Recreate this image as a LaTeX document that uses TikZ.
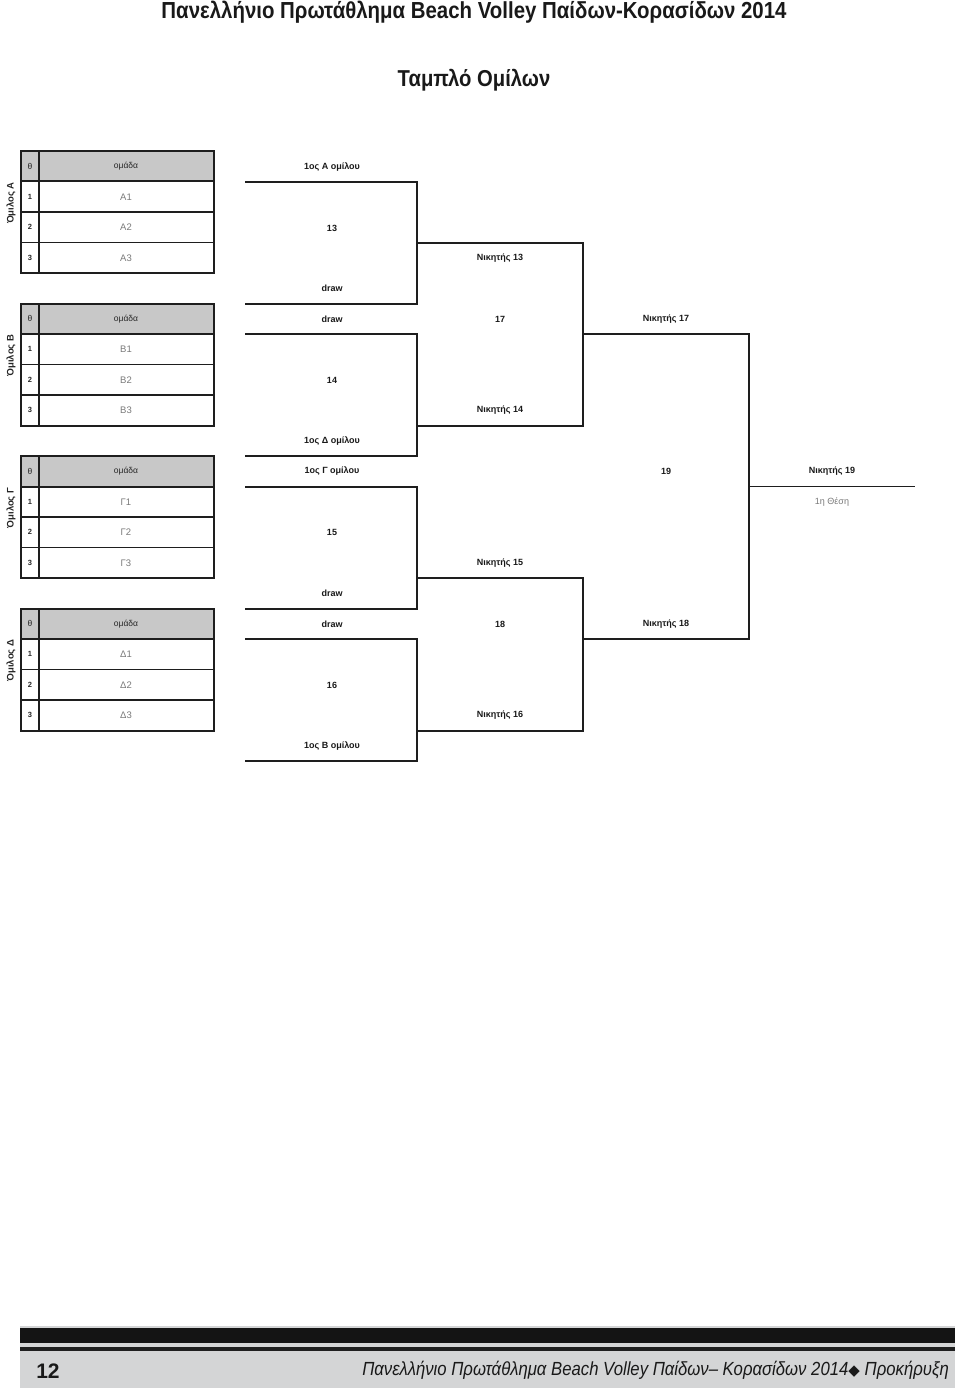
\documentclass[tikz,border=0pt]{standalone}
\usepackage{fontspec}
\setmainfont{Liberation Sans}
\newfontfamily\narrowf[FakeStretch=0.88]{Liberation Sans}
\newfontfamily\symf{DejaVu Sans}
\definecolor{linec}{HTML}{1E1E1E}
\definecolor{hdrc}{HTML}{C8C8C8}
\definecolor{teamc}{HTML}{7A7A7A}
\definecolor{footg}{HTML}{D4D5D6}
\tikzset{
  br/.style={draw=linec, line width=2pt, line cap=rect},
  tabout/.style={draw=linec, line width=2pt},
  tabhd/.style={draw=linec, line width=2pt},
  tabin/.style={draw=linec, line width=1.3pt},
  lbl/.style={inner sep=0pt, font=\fontsize{9}{10}\selectfont\bfseries, text=black!90},
  sublbl/.style={inner sep=0pt, font=\fontsize{9}{10}\selectfont, text=teamc},
  hd/.style={inner sep=0pt, font=\fontsize{8.5}{10}\selectfont, text=black!85},
  num/.style={inner sep=0pt, font=\fontsize{7.5}{9}\selectfont\bfseries, text=black!85},
  team/.style={inner sep=0pt, font=\fontsize{9.5}{11}\selectfont, text=teamc},
  glbl/.style={inner sep=0pt, rotate=90, font=\fontsize{9.5}{11}\selectfont\bfseries, text=black!85},
}
\newcommand\grptab[3]{%
  \begin{scope}[shift={(0,#1)}]
    \fill[hdrc] (21,0) rectangle (214,30.5);
    \draw[tabin] (21,61) -- (214,61);
    \draw[tabin] (21,91.5) -- (214,91.5);
    \draw[tabhd] (21,30.5) -- (214,30.5);
    \draw[tabin] (39,0) -- (39,122);
    \draw[tabout] (21,0) rectangle (214,122);
    \node[hd] (#3h0) at (30,15.25) {θ};
    \node[hd] (#3h1) at (126,15.25) {ομάδα};
    \node[num] (#3n1) at (30,45.75) {1};
    \node[num] (#3n2) at (30,76.25) {2};
    \node[num] (#3n3) at (30,106.75) {3};
    \node[team] (#3t1) at (126,45.75) {#21};
    \node[team] (#3t2) at (126,76.25) {#22};
    \node[team] (#3t3) at (126,106.75) {#23};
    \node[glbl] (#3g) at (11,52) {Όμιλος #2};
  \end{scope}}
\begin{document}
\begin{tikzpicture}[x=1pt,y=-1pt]
\useasboundingbox (0,0) rectangle (960,1388);
\fill[white] (0,0) rectangle (960,1388);

% titles
\node[inner sep=0pt, font=\narrowf\fontsize{23.2}{26}\selectfont\bfseries, text=black!90] (title) at (474,12) {Πανελλήνιο Πρωτάθλημα Beach Volley Παίδων-Κορασίδων 2014};
\node[inner sep=0pt, font=\narrowf\fontsize{23}{26}\selectfont\bfseries, text=black!90] (subtitle) at (474,80) {Ταμπλό Ομίλων};

% group tables
\grptab{151}{Α}{ga}
\grptab{303.5}{Β}{gb}
\grptab{456}{Γ}{gc}
\grptab{608.5}{Δ}{gd}

% bracket coordinates
\coordinate (p13a) at (246,182);   \coordinate (q13a) at (417,182);
\coordinate (p13b) at (246,303.5); \coordinate (q13b) at (417,303.5);
\coordinate (q13m) at (417,243);
\coordinate (p14a) at (246,334);   \coordinate (q14a) at (417,334);
\coordinate (p14b) at (246,456);   \coordinate (q14b) at (417,456);
\coordinate (q14m) at (417,425.5);
\coordinate (p15a) at (246,486.5); \coordinate (q15a) at (417,486.5);
\coordinate (p15b) at (246,608.5); \coordinate (q15b) at (417,608.5);
\coordinate (q15m) at (417,578);
\coordinate (p16a) at (246,639);   \coordinate (q16a) at (417,639);
\coordinate (p16b) at (246,761);   \coordinate (q16b) at (417,761);
\coordinate (q16m) at (417,730.5);
\coordinate (r17a) at (583,243);   \coordinate (r17b) at (583,425.5);
\coordinate (r17m) at (583,334);
\coordinate (r18a) at (583,578);   \coordinate (r18b) at (583,730.5);
\coordinate (r18m) at (583,639);
\coordinate (s19a) at (749,334);   \coordinate (s19b) at (749,639);
\coordinate (s19m) at (749,486.5);
\coordinate (fin) at (914,486.5);

% bracket lines
\draw[br] (p13a) -- (q13a) -- (q13b) -- (p13b);
\draw[br] (p14a) -- (q14a) -- (q14b) -- (p14b);
\draw[br] (p15a) -- (q15a) -- (q15b) -- (p15b);
\draw[br] (p16a) -- (q16a) -- (q16b) -- (p16b);
\draw[br] (q13m) -- (r17a) -- (r17b) -- (q14m);
\draw[br] (q15m) -- (r18a) -- (r18b) -- (q16m);
\draw[br] (r17m) -- (s19a) -- (s19b) -- (r18m);
\draw[br, line width=1.5pt] (s19m) -- (fin);

% labels round 1
\node[lbl] (l1) at (332,167) {1ος Α ομίλου};
\node[lbl] (l2) at (332,228) {13};
\node[lbl] (l3) at (332,288.5) {draw};
\node[lbl] (l4) at (332,319) {draw};
\node[lbl] (l5) at (332,380) {14};
\node[lbl] (l6) at (332,441) {1ος Δ ομίλου};
\node[lbl] (l7) at (332,471.5) {1ος Γ ομίλου};
\node[lbl] (l8) at (332,532.5) {15};
\node[lbl] (l9) at (332,593.5) {draw};
\node[lbl] (l10) at (332,624) {draw};
\node[lbl] (l11) at (332,685) {16};
\node[lbl] (l12) at (332,746) {1ος Β ομίλου};
% round 2
\node[lbl] (w13) at (500,258.5) {Νικητής 13};
\node[lbl] (m17) at (500,319) {17};
\node[lbl] (w14) at (500,410.5) {Νικητής 14};
\node[lbl] (w15) at (500,563) {Νικητής 15};
\node[lbl] (m18) at (500,624) {18};
\node[lbl] (w16) at (500,715.5) {Νικητής 16};
% round 3
\node[lbl] (w17) at (666,319) {Νικητής 17};
\node[lbl] (m19) at (666,471.5) {19};
\node[lbl] (w18) at (666,624) {Νικητής 18};
% final
\node[lbl] (w19) at (832,471.5) {Νικητής 19};
\node[sublbl] (pos1) at (832,502) {1η Θέση};

% footer
\fill[footg] (20,1326) rectangle (955,1388);
\fill[black!92] (20,1328) rectangle (955,1343);
\fill[black!88] (20,1347) rectangle (955,1351);
\node[inner sep=0pt, font=\fontsize{21}{24}\selectfont\bfseries, text=black!90] (pgno) at (48,1371) {12};
\node[inner sep=0pt, anchor=base east, font=\narrowf\fontsize{19}{22}\selectfont\itshape, text=black!90] (foot) at (949,1375) {Πανελλήνιο Πρωτάθλημα Beach Volley Παίδων– Κορασίδων 2014{\symf\fontsize{15}{16}\selectfont ◆} Προκήρυξη};
\end{tikzpicture}
\end{document}
